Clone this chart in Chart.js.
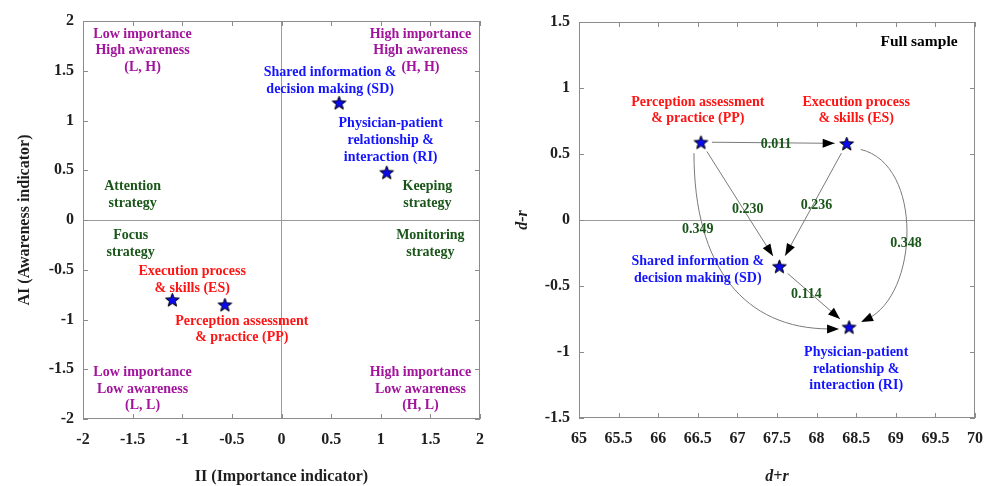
<!DOCTYPE html>
<html>
<head>
<meta charset="utf-8">
<script src="https://cdn.jsdelivr.net/npm/chart.js@4/dist/chart.umd.min.js"></script>
<style>
  html, body { margin: 0; padding: 0; background: #fff; }
  .panel { position: absolute; top: 0; width: 492px; height: 486px; }
  #left-panel { left: 0; }
  #right-panel { left: 492px; }
</style>
</head>
<body>
<div class="panel" id="left-panel"><canvas id="ipa-chart"></canvas></div>
<div class="panel" id="right-panel"><canvas id="dematel-chart"></canvas></div>
<script>
// factors, in the same order in every array below
const factors = ['PP', 'ES', 'SD', 'RI'];

// left panel: importance / awareness indicators
const importanceII = [-0.57, -1.10, 0.58, 1.06];
const awarenessAI = [-0.85, -0.80, 1.18, 0.48];
const iiRange = [-2, 2];
const aiRange = [-2, 2];

// right panel: prominence (d+r) and relation (d-r)
const dPlusR = [66.54, 68.38, 67.53, 68.41];
const dMinusR = [0.59, 0.58, -0.35, -0.81];
const dPlusRRange = [65, 70];
const dMinusRRange = [-1.5, 1.5];

// influence links between factors
const linkFrom = ['PP', 'PP', 'ES', 'SD', 'PP', 'ES'];
const linkTo = ['ES', 'SD', 'SD', 'RI', 'RI', 'RI'];
const linkWeights = [0.011, 0.230, 0.236, 0.114, 0.349, 0.348];

const FONT = '"Liberation Serif", "Times New Roman", serif';
const INK = '#1e1e1e';
const FRAME = '#8c8c8c';
const RED = '#ff1414';
const BLUE = '#1414ff';
const PURPLE = '#a3149d';
const GREEN = '#1a561a';

function makeStar(r) {
    const c = document.createElement('canvas');
    const s = Math.ceil(r * 2 + 4);
    c.width = c.height = s;
    const g = c.getContext('2d');
    g.beginPath();
    for (let i = 0; i < 10; i++) {
        const rad = i % 2 ? r * 0.42 : r;
        const ang = -Math.PI / 2 + i * Math.PI / 5;
        g.lineTo(s / 2 + rad * Math.cos(ang), s / 2 + 0.8 + rad * Math.sin(ang));
    }
    g.closePath();
    g.fillStyle = '#0a0aee';
    g.fill();
    g.strokeStyle = '#000';
    g.lineWidth = 1;
    g.stroke();
    return c;
}
const star = makeStar(7.2);

// frame on all four sides with inward tick marks
const framePlugin = {
    id: 'frame',
    afterDraw(chart) {
        const { ctx, chartArea: a, scales: { x, y } } = chart;
        ctx.save();
        ctx.strokeStyle = FRAME;
        ctx.lineWidth = 1;
        ctx.strokeRect(a.left + 0.5, a.top + 0.5, a.right - a.left - 1, a.bottom - a.top - 1);
        ctx.beginPath();
        x.ticks.forEach(t => {
            const px = Math.round(x.getPixelForValue(t.value)) + 0.5;
            ctx.moveTo(px, a.bottom); ctx.lineTo(px, a.bottom - 5);
            ctx.moveTo(px, a.top); ctx.lineTo(px, a.top + 5);
        });
        y.ticks.forEach(t => {
            const py = Math.round(y.getPixelForValue(t.value)) + 0.5;
            ctx.moveTo(a.left, py); ctx.lineTo(a.left + 5, py);
            ctx.moveTo(a.right, py); ctx.lineTo(a.right - 5, py);
        });
        ctx.stroke();
        ctx.restore();
    }
};

function drawLabels(chart, labels) {
    const { ctx, scales: { x, y } } = chart;
    ctx.save();
    ctx.textBaseline = 'middle';
    labels.forEach(l => {
        ctx.font = `${l.italic ? 'italic ' : ''}bold ${l.size || 14}px ${FONT}`;
        ctx.fillStyle = l.color;
        ctx.textAlign = l.align || 'center';
        const px = x.getPixelForValue(l.x);
        const py = y.getPixelForValue(l.y);
        const lh = 16.6;
        const top = py - (l.lines.length - 1) * lh / 2;
        l.lines.forEach((t, i) => ctx.fillText(t, px, top + i * lh));
    });
    ctx.restore();
}

function arrowHead(ctx, tip, from) {
    const ang = Math.atan2(tip.y - from.y, tip.x - from.x);
    const len = 12, half = 4.5;
    ctx.beginPath();
    ctx.moveTo(tip.x, tip.y);
    ctx.lineTo(tip.x - len * Math.cos(ang) + half * Math.sin(ang), tip.y - len * Math.sin(ang) - half * Math.cos(ang));
    ctx.lineTo(tip.x - len * Math.cos(ang) - half * Math.sin(ang), tip.y - len * Math.sin(ang) + half * Math.cos(ang));
    ctx.closePath();
    ctx.fill();
}

// curved links get a bend; others are straight
const linkBends = {
    'PP-RI': { s: [-7, 11], e: [-10, 2], left: true },
    'ES-RI': { s: [14, 6], e: [12, -5], c1: [63, 15], c2: [58, -27] }
};
const linkLabelPos = [[67.49, 0.57], [67.13, 0.08], [68.0, 0.11], [67.87, -0.56], [66.5, -0.07], [69.13, -0.18]];

const linkPlugin = {
    id: 'links',
    beforeDatasetsDraw(chart) {
        const { ctx, scales: { x, y } } = chart;
        const pt = k => {
            const i = factors.indexOf(k);
            return { x: x.getPixelForValue(dPlusR[i]), y: y.getPixelForValue(dMinusR[i]) };
        };
        ctx.save();
        ctx.strokeStyle = '#7a7a7a';
        ctx.fillStyle = '#000';
        ctx.lineWidth = 1;
        linkFrom.forEach((f, i) => {
            const a = pt(f), b = pt(linkTo[i]);
            const bend = linkBends[f + '-' + linkTo[i]];
            if (!bend) {
                const d = Math.hypot(b.x - a.x, b.y - a.y);
                const ux = (b.x - a.x) / d, uy = (b.y - a.y) / d;
                const s = { x: a.x + ux * 11, y: a.y + uy * 11 };
                const e = { x: b.x - ux * 12, y: b.y - uy * 12 };
                ctx.beginPath();
                ctx.moveTo(s.x, s.y);
                ctx.lineTo(e.x, e.y);
                ctx.stroke();
                arrowHead(ctx, e, s);
                return;
            }
            const s = { x: a.x + bend.s[0], y: a.y + bend.s[1] };
            const e = { x: b.x + bend.e[0], y: b.y + bend.e[1] };
            let c1, c2;
            if (bend.left) {
                c1 = { x: s.x, y: s.y + 0.65 * (e.y - s.y) };
                c2 = { x: e.x - 0.65 * (e.x - s.x), y: e.y };
            } else {
                c1 = { x: s.x + bend.c1[0], y: s.y + bend.c1[1] };
                c2 = { x: e.x + bend.c2[0], y: e.y + bend.c2[1] };
            }
            ctx.beginPath();
            ctx.moveTo(s.x, s.y);
            ctx.bezierCurveTo(c1.x, c1.y, c2.x, c2.y, e.x - (e.x - c2.x) * 0.1, e.y - (e.y - c2.y) * 0.1);
            ctx.stroke();
            arrowHead(ctx, e, c2);
        });
        ctx.restore();
    },
    afterDatasetsDraw(chart) {
        drawLabels(chart, linkWeights.map((w, i) => ({
            lines: [w.toFixed(3)], x: linkLabelPos[i][0], y: linkLabelPos[i][1], color: GREEN
        })));
        drawLabels(chart, rightNotes);
    }
};

const leftNotes = [
    { lines: ['Low importance', 'High awareness', '(L, H)'], x: -1.40, y: 1.70, color: PURPLE },
    { lines: ['High importance', 'High awareness', '(H, H)'], x: 1.40, y: 1.70, color: PURPLE },
    { lines: ['Low importance', 'Low awareness', '(L, L)'], x: -1.40, y: -1.70, color: PURPLE },
    { lines: ['High importance', 'Low awareness', '(H, L)'], x: 1.40, y: -1.70, color: PURPLE },
    { lines: ['Attention', 'strategy'], x: -1.50, y: 0.25, color: GREEN },
    { lines: ['Keeping', 'strategy'], x: 1.47, y: 0.25, color: GREEN },
    { lines: ['Focus', 'strategy'], x: -1.52, y: -0.24, color: GREEN },
    { lines: ['Monitoring', 'strategy'], x: 1.50, y: -0.24, color: GREEN },
    { lines: ['Shared information &', 'decision making (SD)'], x: 0.49, y: 1.40, color: BLUE },
    { lines: ['Physician-patient', 'relationship &', 'interaction (RI)'], x: 1.10, y: 0.80, color: BLUE },
    { lines: ['Execution process', '& skills (ES)'], x: -0.90, y: -0.60, color: RED },
    { lines: ['Perception assessment', '& practice (PP)'], x: -0.40, y: -1.10, color: RED }
];

const rightNotes = [
    { lines: ['Full sample'], x: 69.78, y: 1.35, color: '#000', align: 'right', size: 15.5 },
    { lines: ['Perception assessment', '& practice (PP)'], x: 66.5, y: 0.83, color: RED },
    { lines: ['Execution process', '& skills (ES)'], x: 68.5, y: 0.83, color: RED },
    { lines: ['Shared information &', 'decision making (SD)'], x: 66.5, y: -0.38, color: BLUE },
    { lines: ['Physician-patient', 'relationship &', 'interaction (RI)'], x: 68.5, y: -1.13, color: BLUE }
];

function axis(range, titleText, opts) {
    return {
        type: 'linear',
        min: range[0],
        max: range[1],
        border: { display: false },
        grid: {
            drawTicks: false,
            tickLength: 0,
            color: c => (c.tick && c.tick.value === 0 ? '#9a9a9a' : 'rgba(0,0,0,0)'),
            lineWidth: 1
        },
        ticks: {
            stepSize: 0.5,
            color: INK,
            padding: opts.padding,
            font: { family: FONT, size: 16, weight: 'bold' },
            callback: v => String(Math.round(v * 10) / 10)
        },
        title: {
            display: true,
            text: titleText,
            color: INK,
            padding: opts.titlePadding,
            font: { family: FONT, size: 16, weight: 'bold', style: opts.italic ? 'italic' : 'normal' }
        },
        afterFit: opts.fit
    };
}

function scatterConfig(xs, ys, xScale, yScale, padding, plugins) {
    return {
        type: 'scatter',
        data: {
            datasets: [{
                data: xs.map((v, i) => ({ x: v, y: ys[i] })),
                pointStyle: star,
                pointRadius: 8,
                pointHoverRadius: 8
            }]
        },
        options: {
            responsive: true,
            maintainAspectRatio: false,
            animation: false,
            layout: { padding },
            plugins: { legend: { display: false }, tooltip: { enabled: false } },
            scales: { x: xScale, y: yScale }
        },
        plugins
    };
}

new Chart(document.getElementById('ipa-chart'), scatterConfig(
    importanceII, awarenessAI,
    axis(iiRange, 'II (Importance indicator)', { padding: 11, titlePadding: { top: 0, bottom: 0 },
        fit: s => { s.height = 67; s.paddingRight = 0; s.paddingLeft = 0; } }),
    axis(aiRange, 'AI (Awareness indicator)', { padding: 9, titlePadding: { top: 15, bottom: 0 },
        fit: s => { s.width = 83; s.paddingTop = 0; s.paddingBottom = 0; } }),
    { top: 21, right: 12, bottom: 0, left: 0 },
    [framePlugin, { id: 'ipaNotes', afterDatasetsDraw: c => drawLabels(c, leftNotes) }]
));

new Chart(document.getElementById('dematel-chart'), scatterConfig(
    dPlusR, dMinusR,
    axis(dPlusRRange, 'd+r', { padding: 11, italic: true, titlePadding: { top: 0, bottom: 0 },
        fit: s => { s.height = 68; s.paddingRight = 0; s.paddingLeft = 0; } }),
    axis(dMinusRRange, 'd-r', { padding: 9, italic: true, titlePadding: { top: 21, bottom: 0 },
        fit: s => { s.width = 87; s.paddingTop = 0; s.paddingBottom = 0; } }),
    { top: 22, right: 8, bottom: 0, left: 0 },
    [framePlugin, linkPlugin]
));
</script>
</body>
</html>
